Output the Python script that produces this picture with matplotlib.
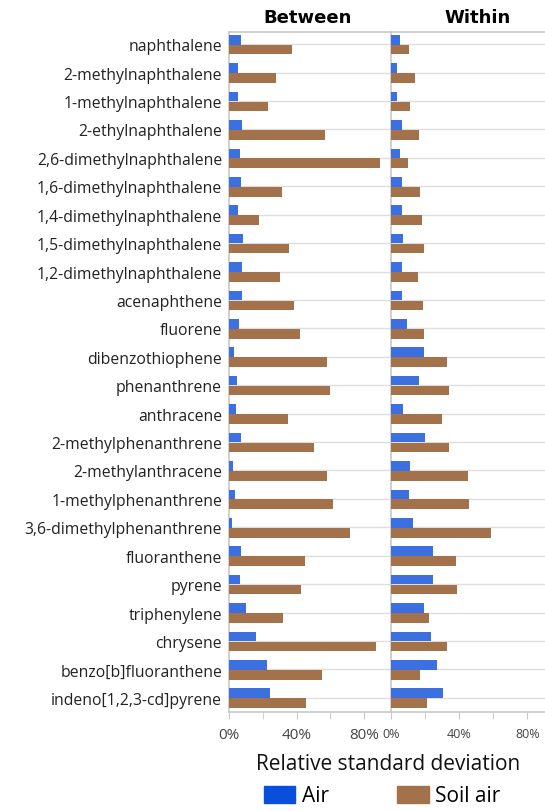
import matplotlib.pyplot as plt
import numpy as np
from matplotlib.patches import Patch
from matplotlib.ticker import MultipleLocator, FuncFormatter

plt.rcParams['font.family'] = ['Open Sans', 'DejaVu Sans']

compounds = [
    'naphthalene', '2-methylnaphthalene', '1-methylnaphthalene',
    '2-ethylnaphthalene', '2,6-dimethylnaphthalene', '1,6-dimethylnaphthalene',
    '1,4-dimethylnaphthalene', '1,5-dimethylnaphthalene', '1,2-dimethylnaphthalene',
    'acenaphthene', 'fluorene', 'dibenzothiophene', 'phenanthrene', 'anthracene',
    '2-methylphenanthrene', '2-methylanthracene', '1-methylphenanthrene',
    '3,6-dimethylphenanthrene', 'fluoranthene', 'pyrene', 'triphenylene',
    'chrysene', 'benzo[b]fluoranthene', 'indeno[1,2,3-cd]pyrene',
]

# relative standard deviation, %
between_air = [6.9, 5.5, 5.5, 7.9, 6.3, 7.3, 5.1, 8.5, 7.5, 7.7, 5.7, 3.2,
               4.9, 4.1, 6.9, 2.2, 3.6, 1.6, 7.1, 6.7, 10.1, 16.2, 22.7, 24.3]
between_soil = [37.3, 27.6, 23.3, 56.9, 89.5, 31.4, 18.0, 35.6, 30.4, 38.7, 41.9, 58.3,
                59.9, 35.2, 50.4, 58.3, 61.8, 71.5, 44.8, 42.5, 32.2, 87.1, 55.3, 45.6]
within_air = [5.1, 3.5, 3.7, 6.7, 5.5, 6.7, 6.5, 6.9, 6.5, 6.5, 9.6, 19.2,
              16.3, 7.1, 20.0, 11.0, 10.8, 13.1, 24.7, 24.7, 19.2, 23.3, 26.9, 30.4]
within_soil = [10.8, 14.3, 11.0, 16.5, 10.2, 16.9, 18.0, 19.6, 15.9, 18.6, 19.4, 33.1,
               34.3, 29.8, 33.9, 45.3, 45.7, 58.6, 38.4, 39.0, 22.2, 32.9, 17.1, 21.2]

air_color = '#3c6fe0'
soil_color = '#a3714a'
grid_color = '#dedede'
spine_color = '#c8c8c8'

fig = plt.figure(figsize=(5.45, 8.12), dpi=100)
ax1 = fig.add_axes([229 / 545, 1 - 713 / 812, 162 / 545, 680 / 812])
ax2 = fig.add_axes([391 / 545, 1 - 713 / 812, 154 / 545, 680 / 812])

y = np.arange(len(compounds))
h = 0.34


def draw_panel(ax, air, soil, xmax, ticksize):
    ax.barh(y - 0.16, air, height=h, color=air_color, zorder=3)
    ax.barh(y + 0.19, soil, height=h, color=soil_color, zorder=3)
    ax.set_ylim(23.5, -0.43)
    ax.set_xlim(0, xmax)
    ax.set_yticks(y)
    for yy in y:
        ax.axhline(yy, color=grid_color, lw=1, zorder=1)
    ax.xaxis.set_major_locator(MultipleLocator(40))
    ax.xaxis.set_minor_locator(MultipleLocator(20))
    ax.xaxis.set_major_formatter(FuncFormatter(lambda v, p: f'{v:.0f}%'))
    ax.tick_params(axis='x', which='both', length=5, color=spine_color,
                   labelsize=ticksize, labelcolor='#444444', pad=6)
    ax.tick_params(axis='y', length=0, pad=5)
    for side in ['left', 'top', 'bottom']:
        ax.spines[side].set_color(spine_color)
        ax.spines[side].set_linewidth(1.2)
    ax.spines['right'].set_visible(False)


draw_panel(ax1, between_air, between_soil, 96, 11)
draw_panel(ax2, within_air, within_soil, 90.4, 9)

ax1.set_yticklabels(compounds, fontsize=11.3, color='#222222')
ax2.set_yticklabels([])

fig.text(308 / 545, 1 - 18 / 812, 'Between', ha='center', va='center',
         fontsize=13, fontweight='bold', family='DejaVu Sans')
fig.text(478 / 545, 1 - 18 / 812, 'Within', ha='center', va='center',
         fontsize=13, fontweight='bold', family='DejaVu Sans')
fig.text(388 / 545, 1 - 765 / 812, 'Relative standard deviation', ha='center',
         va='center', fontsize=15, color='#111111')

handles = [Patch(color='#0a4fdc', label='Air'), Patch(color=soil_color, label='Soil air')]
fig.legend(handles=handles, loc='center', bbox_to_anchor=(382 / 545, 1 - 797 / 812),
           ncol=2, frameon=False, fontsize=15, handlelength=1.5, handleheight=0.9,
           columnspacing=3.3, handletextpad=0.3)

fig.savefig('out.png', dpi=100)
